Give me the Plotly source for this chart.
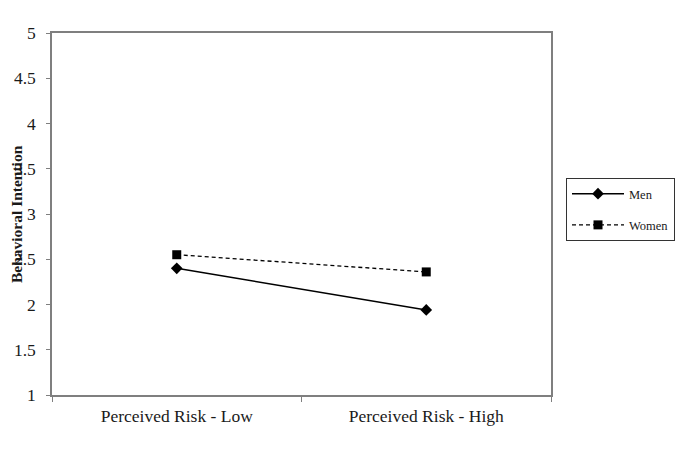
import plotly.graph_objects as go

categories = ["Perceived Risk - Low", "Perceived Risk - High"]
men = [2.40, 1.94]
women = [2.55, 2.36]
y_ticks = [1, 1.5, 2, 2.5, 3, 3.5, 4, 4.5, 5]

serif = "Liberation Serif, Times New Roman, serif"
axis_gray = "#7f7f7f"
text_color = "#1a1a1a"

fig = go.Figure()
fig.add_trace(go.Scatter(
    x=categories, y=men, name="Men", mode="lines+markers",
    line=dict(color="black", width=1.5),
    marker=dict(symbol="diamond", size=9, color="black"),
    legendgroup="men",
))
fig.add_trace(go.Scatter(
    x=categories, y=women, name="Women", mode="lines+markers",
    line=dict(color="black", width=1.3, dash="4px,3px"),
    marker=dict(symbol="square", size=9, color="black"),
    legendgroup="women",
))

fig.update_layout(
    width=676, height=456,
    margin=dict(l=52, r=125, t=33, b=61, autoexpand=False),
    paper_bgcolor="white", plot_bgcolor="white",
    font=dict(family=serif, size=17.5, color=text_color),
    showlegend=True,
    legend=dict(
        xref="container", yref="container",
        x=566 / 676, y=1 - 178 / 456, xanchor="left", yanchor="top",
        bordercolor="#333", borderwidth=1,
        font=dict(family=serif, size=12.5, color=text_color),
        tracegroupgap=12, traceorder="grouped",
        itemwidth=52,
    ),
    xaxis=dict(
        type="category", range=[-0.5, 1.5],
        showline=True, linecolor=axis_gray, linewidth=1.5, mirror=True,
        ticks="outside", ticklen=5, tickcolor=axis_gray, tickson="boundaries",
        showgrid=False, zeroline=False, ticklabelstandoff=4,
        tickfont=dict(family=serif, size=17.5, color=text_color),
    ),
    yaxis=dict(
        range=[1, 5], tickvals=y_ticks,
        ticktext=[f"{v:g}" for v in y_ticks],
        showline=True, linecolor=axis_gray, linewidth=1.5, mirror=True,
        ticks="outside", ticklen=4, tickcolor=axis_gray,
        showgrid=False, zeroline=False, ticklabelstandoff=7,
        tickfont=dict(family=serif, size=17.5, color=text_color),
    ),
    annotations=[dict(
        text="<b>Behavioral Intention</b>", textangle=-90,
        xref="paper", yref="paper", x=-0.072, y=0.5,
        xanchor="center", yanchor="middle", showarrow=False,
        font=dict(family=serif, size=15.5, color=text_color),
    )],
)

fig.write_html("out.html")
